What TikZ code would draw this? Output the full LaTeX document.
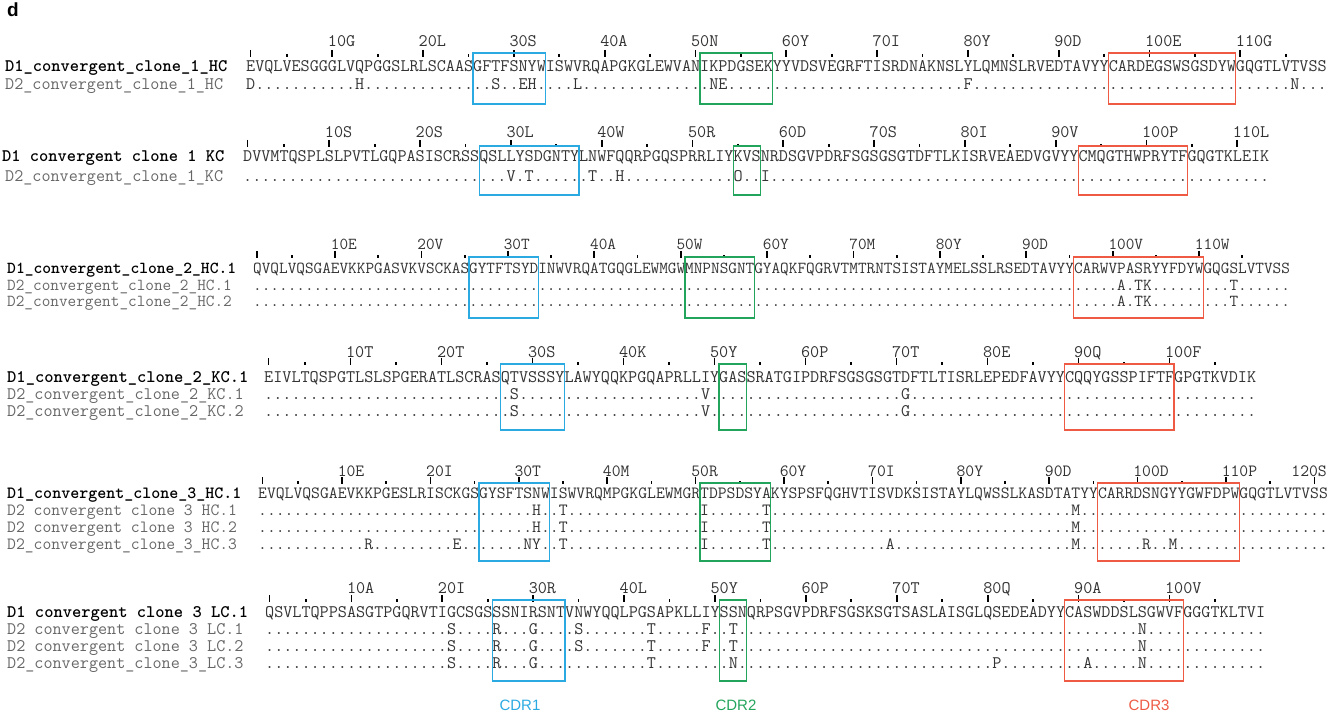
\documentclass[tikz,border=0pt]{standalone}
\usepackage{fontspec}
\newfontfamily\helv{Liberation Sans}
\definecolor{cdrblue}{HTML}{2AAAE1}
\definecolor{cdrgreen}{HTML}{23A45C}
\definecolor{cdrred}{HTML}{EE5A44}
\definecolor{seqgray}{HTML}{333333}
\definecolor{namegray}{HTML}{666666}
\newlength{\monow}
\newcommand{\seqfont}{\ttfamily\fontsize{\fs pt}{\fs pt}\selectfont}
\newcommand{\gap}[1]{\foreach \gk in {1,...,#1}{.}}

\begin{document}
\settowidth{\monow}{\ttfamily\fontsize{17pt}{17pt}\selectfont M}%
\begin{tikzpicture}[x=1pt, y=-1pt,
  seq/.style={anchor=base west, inner sep=0pt, text=seqgray, font=\seqfont},
  dname/.style={seq, text=black, font=\seqfont\bfseries},
  gname/.style={seq, text=namegray},
  bigtick/.style={line width=1.7pt},
  smalltick/.style={line width=1.7pt},
  cdrone/.style={line width=1.1pt, draw=cdrblue},
  cdrtwo/.style={line width=1.1pt, draw=cdrgreen},
  cdrthree/.style={line width=1.1pt, draw=cdrred},
  cdrlabel/.style={font=\helv\fontsize{15}{15}\selectfont, inner sep=0pt}]
  \useasboundingbox (0,0) rectangle (1328,714);

  \node[font=\helv\bfseries\fontsize{19}{19}\selectfont, anchor=base west, inner sep=0pt] (panel) at (7,17) {d};

  % clone 1, heavy chain
  \def\sx{246}\def\px{9.08}\pgfmathsetmacro\fs{17*\px/\monow}
  \foreach \i/\lab in {10/10G,20/20L,30/30S,40/40A,50/50N,60/60Y,70/70I,80/80Y,90/90D,100/100E,110/110G}
    \node[seq] (a\i) at ({\sx+(\i-1)*\px},47) {\lab};
  \foreach \i in {1,10,20,...,110} \draw[bigtick] ({\sx+(\i-0.5)*\px},50) -- ++(0,7);
  \foreach \i in {5,15,...,115} \draw[smalltick] ({\sx+(\i-0.5)*\px},54) -- ++(0,3);
  \node[dname] (a1n) at (5,72) {D1\_convergent\_clone\_1\_HC};
  \node[seq] (a1s) at (\sx,72) {EVQLVESGGGLVQPGGSLRLSCAASGFTFSNYWISWVRQAPGKGLEWVANIKPDGSEKYYVDSVEGRFTISRDNAKNSLYLQMNSLRVEDTAVYYCARDEGSWSGSDYWGQGTLVTVSS};
  \node[gname] (a2n) at (5,90) {D2\_convergent\_clone\_1\_HC};
  \node[seq] (a2s) at (\sx,90) {D\gap{11}H\gap{14}S..EH....L\gap{14}NE\gap{26}F\gap{35}N...};
  \draw[cdrone] ({\sx+25*\px},53) rectangle ({\sx+33*\px},104);
  \draw[cdrtwo] ({\sx+50*\px},53) rectangle ({\sx+58*\px},104);
  \draw[cdrthree] ({\sx+95*\px},53) rectangle ({\sx+109*\px},104);

  % clone 1, kappa chain
  \def\sx{243}\def\px{9.08}\pgfmathsetmacro\fs{17*\px/\monow}
  \foreach \i/\lab in {10/10S,20/20S,30/30L,40/40W,50/50R,60/60D,70/70S,80/80I,90/90V,100/100P,110/110L}
    \node[seq] (b\i) at ({\sx+(\i-1)*\px},138) {\lab};
  \foreach \i in {1,10,20,...,110} \draw[bigtick] ({\sx+(\i-0.5)*\px},140) -- ++(0,7);
  \foreach \i in {5,15,...,105} \draw[smalltick] ({\sx+(\i-0.5)*\px},144) -- ++(0,3);
  \node[dname] (b1n) at (2,162) {D1 convergent clone 1 KC};
  \node[seq] (b1s) at (\sx,162) {DVVMTQSPLSLPVTLGQPASISCRSSQSLLYSDGNTYLNWFQQRPGQSPRRLIYKVSNRDSGVPDRFSGSGSGTDFTLKISRVEAEDVGVYYCMQGTHWPRYTFGQGTKLEIK};
  \node[gname] (b2n) at (5,182) {D2\_convergent\_clone\_1\_KC};
  \node[seq] (b2s) at (\sx,182) {\gap{29}V.T\gap{6}T..H\gap{12}O..I\gap{55}};
  \draw[cdrone] ({\sx+26*\px},146) rectangle ({\sx+37*\px},195);
  \draw[cdrtwo] ({\sx+54*\px},146) rectangle ({\sx+57*\px},195);
  \draw[cdrthree] ({\sx+92*\px},146) rectangle ({\sx+104*\px},195);

  % clone 2, heavy chain
  \def\sx{253}\def\px{8.64}\pgfmathsetmacro\fs{17*\px/\monow}
  \foreach \i/\lab in {10/10E,20/20V,30/30T,40/40A,50/50W,60/60Y,70/70M,80/80Y,90/90D,100/100V,110/110W}
    \node[seq] (c\i) at ({\sx+(\i-1)*\px},250) {\lab};
  \foreach \i in {1,10,20,...,110} \draw[bigtick] ({\sx+(\i-0.5)*\px},251) -- ++(0,7);
  \foreach \i in {5,15,...,115} \draw[smalltick] ({\sx+(\i-0.5)*\px},255) -- ++(0,3);
  \node[dname] (c1n) at (7,273) {D1\_convergent\_clone\_2\_HC.1};
  \node[seq] (c1s) at (\sx,273) {QVQLVQSGAEVKKPGASVKVSCKASGYTFTSYDINWVRQATGQGLEWMGWMNPNSGNTGYAQKFQGRVTMTRNTSISTAYMELSSLRSEDTAVYYCARWVPASRYYFDYWGQGSLVTVSS};
  \node[gname] (c2n) at (7,290) {D2\_convergent\_clone\_2\_HC.1};
  \node[seq] (c2s) at (\sx,290) {\gap{100}A.TK\gap{9}T\gap{6}};
  \node[gname] (c3n) at (7,306) {D2\_convergent\_clone\_2\_HC.2};
  \node[seq] (c3s) at (\sx,306) {\gap{100}A.TK\gap{9}T\gap{6}};
  \draw[cdrone] ({\sx+25*\px},257) rectangle ({\sx+33*\px},318);
  \draw[cdrtwo] ({\sx+50*\px},257) rectangle ({\sx+58*\px},318);
  \draw[cdrthree] ({\sx+95*\px},257) rectangle ({\sx+110*\px},318);

  % clone 2, kappa chain
  \def\sx{264}\def\px{9.1}\pgfmathsetmacro\fs{17*\px/\monow}
  \foreach \i/\lab in {10/10T,20/20T,30/30S,40/40K,50/50Y,60/60P,70/70T,80/80E,90/90Q,100/100F}
    \node[seq] (d\i) at ({\sx+(\i-1)*\px},357) {\lab};
  \foreach \i in {1,10,20,...,100} \draw[bigtick] ({\sx+(\i-0.5)*\px},358) -- ++(0,7);
  \foreach \i in {5,15,...,105} \draw[smalltick] ({\sx+(\i-0.5)*\px},362) -- ++(0,3);
  \node[dname] (d1n) at (7,382) {D1\_convergent\_clone\_2\_KC.1};
  \node[seq] (d1s) at (\sx,382) {EIVLTQSPGTLSLSPGERATLSCRASQTVSSSYLAWYQQKPGQAPRLLIYGASSRATGIPDRFSGSGSGTDFTLTISRLEPEDFAVYYCQQYGSSPIFTFGPGTKVDIK};
  \node[gname] (d2n) at (7,399) {D2\_convergent\_clone\_2\_KC.1};
  \node[seq] (d2s) at (\sx,399) {\gap{27}S\gap{20}V\gap{21}G\gap{38}};
  \node[gname] (d3n) at (7,416) {D2\_convergent\_clone\_2\_KC.2};
  \node[seq] (d3s) at (\sx,416) {\gap{27}S\gap{20}V\gap{21}G\gap{38}};
  \draw[cdrone] ({\sx+26*\px},364) rectangle ({\sx+33*\px},430);
  \draw[cdrtwo] ({\sx+50*\px},364) rectangle ({\sx+53*\px},430);
  \draw[cdrthree] ({\sx+88*\px},364) rectangle ({\sx+100*\px},430);

  % clone 3, heavy chain
  \def\sx{258}\def\px{8.84}\pgfmathsetmacro\fs{17*\px/\monow}
  \foreach \i/\lab in {10/10E,20/20I,30/30T,40/40M,50/50R,60/60Y,70/70I,80/80Y,90/90D,100/100D,110/110P}
    \node[seq] (e\i) at ({\sx+(\i-1)*\px},476) {\lab};
  \node[seq, anchor=base east] (e120) at (1327,476) {120S};
  \foreach \i in {1,10,20,...,120} \draw[bigtick] ({\sx+(\i-0.5)*\px},477) -- ++(0,7);
  \foreach \i in {5,15,...,115} \draw[smalltick] ({\sx+(\i-0.5)*\px},481) -- ++(0,3);
  \node[dname] (e1n) at (7,498) {D1\_convergent\_clone\_3\_HC.1};
  \node[seq] (e1s) at (\sx,498) {EVQLVQSGAEVKKPGESLRISCKGSGYSFTSNWISWVRQMPGKGLEWMGRTDPSDSYAKYSPSFQGHVTISVDKSISTAYLQWSSLKASDTATYYCARRDSNGYYGWFDPWGQGTLVTVSS};
  \node[gname] (e2n) at (7,515) {D2 convergent clone 3 HC.1};
  \node[seq] (e2s) at (\sx,515) {\gap{31}H..T\gap{15}I\gap{6}T\gap{34}M\gap{28}};
  \node[gname] (e3n) at (7,532) {D2 convergent clone 3 HC.2};
  \node[seq] (e3s) at (\sx,532) {\gap{31}H..T\gap{15}I\gap{6}T\gap{34}M\gap{28}};
  \node[gname] (e4n) at (7,549) {D2\_convergent\_clone\_3\_HC.3};
  \node[seq] (e4s) at (\sx,549) {\gap{12}R\gap{9}E\gap{7}NY..T\gap{15}I\gap{6}T\gap{13}A\gap{20}M\gap{7}R..M\gap{17}};
  \draw[cdrone] ({\sx+25*\px},483) rectangle ({\sx+33*\px},561);
  \draw[cdrtwo] ({\sx+50*\px},483) rectangle ({\sx+58*\px},561);
  \draw[cdrthree] ({\sx+95*\px},483) rectangle ({\sx+111*\px},561);

  % clone 3, lambda chain
  \def\sx{265}\def\px{9.09}\pgfmathsetmacro\fs{17*\px/\monow}
  \foreach \i/\lab in {10/10A,20/20I,30/30R,40/40L,50/50Y,60/60P,70/70T,80/80Q,90/90A,100/100V}
    \node[seq] (f\i) at ({\sx+(\i-1)*\px},593) {\lab};
  \foreach \i in {1,10,20,...,100} \draw[bigtick] ({\sx+(\i-0.5)*\px},595) -- ++(0,7);
  \foreach \i in {5,15,...,105} \draw[smalltick] ({\sx+(\i-0.5)*\px},599) -- ++(0,3);
  \node[dname] (f1n) at (7,617) {D1 convergent clone 3 LC.1};
  \node[seq] (f1s) at (\sx,617) {QSVLTQPPSASGTPGQRVTIGCSGSSSNIRSNTVNWYQQLPGSAPKLLIYSSNQRPSGVPDRFSGSKSGTSASLAISGLQSEDEADYYCASWDDSLSGWVFGGGTKLTVI};
  \node[gname] (f2n) at (7,634) {D2 convergent clone 3 LC.1};
  \node[seq] (f2s) at (\sx,634) {\gap{20}S....R...G....S\gap{7}T.....F..T\gap{44}N\gap{13}};
  \node[gname] (f3n) at (7,651) {D2 convergent clone 3 LC.2};
  \node[seq] (f3s) at (\sx,651) {\gap{20}S....R...G....S\gap{7}T.....F..T\gap{44}N\gap{13}};
  \node[gname] (f4n) at (7,668) {D2\_convergent\_clone\_3\_LC.3};
  \node[seq] (f4s) at (\sx,668) {\gap{20}S....R...G\gap{12}T\gap{8}N\gap{28}P\gap{9}A.....N\gap{13}};
  \draw[cdrone] ({\sx+25*\px},600) rectangle ({\sx+33*\px},681);
  \draw[cdrtwo] ({\sx+50*\px},600) rectangle ({\sx+53*\px},681);
  \draw[cdrthree] ({\sx+88*\px},600) rectangle ({\sx+101*\px},681);

  \node[cdrlabel, text=cdrblue] (cdr1) at (520,705) {CDR1};
  \node[cdrlabel, text=cdrgreen] (cdr2) at (736,705) {CDR2};
  \node[cdrlabel, text=cdrred] (cdr3) at (1149,705) {CDR3};
\end{tikzpicture}
\end{document}
